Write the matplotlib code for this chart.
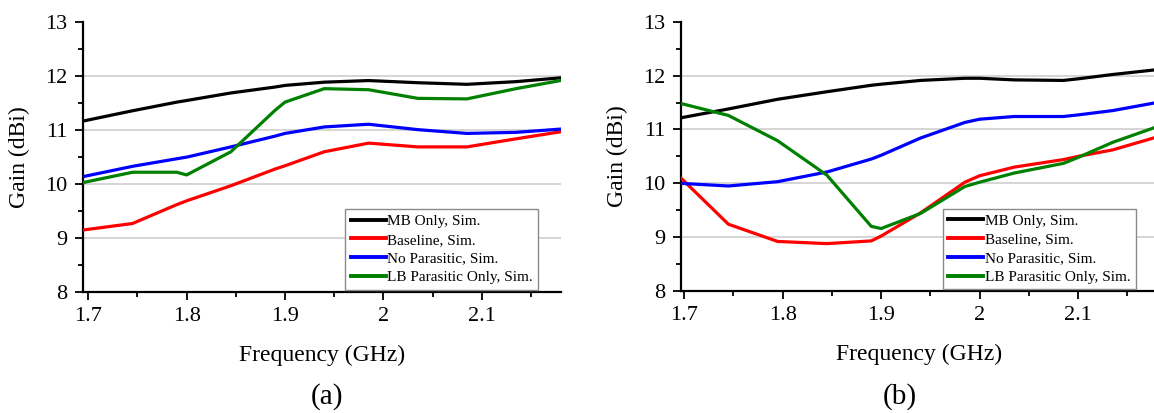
import matplotlib
matplotlib.use("Agg")
import matplotlib.pyplot as plt
from matplotlib.ticker import MultipleLocator, FuncFormatter

plt.rcParams["font.family"] = ["Liberation Serif", "DejaVu Serif"]

# --- gain vs frequency, panel (a) ---
freq_a = [1.695, 1.745, 1.79, 1.80, 1.845, 1.89, 1.90, 1.94, 1.985, 2.035,
          2.085, 2.135, 2.18]
mb_a = [11.17, 11.36, 11.52, 11.55, 11.69, 11.80, 11.83, 11.89, 11.92, 11.88,
        11.85, 11.90, 11.97]
base_a = [9.15, 9.27, 9.62, 9.69, 9.97, 10.28, 10.34, 10.60, 10.76, 10.69,
          10.69, 10.84, 10.97]
nopar_a = [10.14, 10.33, 10.47, 10.50, 10.69, 10.89, 10.94, 11.06, 11.11,
           11.01, 10.94, 10.96, 11.02]
lbpar_a = [10.03, 10.22, 10.22, 10.17, 10.60, 11.37, 11.52, 11.77, 11.75,
           11.59, 11.58, 11.77, 11.92]

# --- panel (b) ---
freq_b = [1.695, 1.745, 1.795, 1.845, 1.89, 1.90, 1.94, 1.985, 2.0, 2.035,
          2.085, 2.10, 2.135, 2.18]
mb_b = [11.21, 11.38, 11.56, 11.70, 11.82, 11.84, 11.91, 11.95, 11.95, 11.92,
        11.91, 11.94, 12.02, 12.11]
base_b = [10.13, 9.24, 8.92, 8.88, 8.93, 9.02, 9.45, 10.02, 10.14, 10.30,
          10.44, 10.50, 10.62, 10.86]
nopar_b = [10.00, 9.95, 10.03, 10.21, 10.45, 10.52, 10.84, 11.13, 11.19,
           11.24, 11.24, 11.27, 11.35, 11.50]
lbpar_b = [11.49, 11.26, 10.79, 10.15, 9.20, 9.16, 9.44, 9.94, 10.02, 10.19,
           10.37, 10.48, 10.76, 11.05]

labels = ["MB Only, Sim.", "Baseline, Sim.", "No Parasitic, Sim.",
          "LB Parasitic Only, Sim."]
colors = ["black", "#ff0000", "#0000ff", "#008000"]

fig = plt.figure(figsize=(11.54, 4.13), dpi=100)
ax_a = fig.add_axes([0.0719, 0.2930, 0.4142, 0.653])
ax_b = fig.add_axes([0.5897, 0.2954, 0.4129, 0.652])


def style(ax, freq, series, xlim, leg_anchor):
    for y, lab, c in zip(series, labels, colors):
        ax.plot(freq, y, color=c, lw=2.3, label=lab, zorder=3)
    ax.set_xlim(*xlim)
    ax.set_ylim(8, 13)
    ax.xaxis.set_major_locator(MultipleLocator(0.1))
    ax.xaxis.set_minor_locator(MultipleLocator(0.05))
    ax.yaxis.set_major_locator(MultipleLocator(1))
    ax.yaxis.set_minor_locator(MultipleLocator(0.5))
    ax.xaxis.set_major_formatter(FuncFormatter(lambda v, p: f"{v:g}"))
    for v in (9, 10, 11, 12):
        ax.axhline(v, color="#d2d2d2", lw=1.3, zorder=1)
    for s in ("top", "right"):
        ax.spines[s].set_visible(False)
    for s in ("left", "bottom"):
        ax.spines[s].set_linewidth(1.6)
    ax.tick_params(which="major", direction="out", length=6, width=1.3,
                   labelsize=16, pad=5)
    ax.tick_params(which="minor", direction="out", length=3.5, width=1.3)
    ax.set_xlabel("Frequency (GHz)", fontsize=17, labelpad=13)
    ax.set_ylabel("Gain (dBi)", fontsize=17, labelpad=11)
    leg = ax.legend(loc="lower right", bbox_to_anchor=leg_anchor,
                    borderaxespad=0, fontsize=11, handlelength=2.3,
                    handletextpad=0.1, labelspacing=0.33, borderpad=0.35,
                    fancybox=False, framealpha=1, edgecolor="#8a8a8a")
    leg.get_frame().set_linewidth(1.0)
    for h in leg.get_lines():
        h.set_linewidth(2.8)


style(ax_a, freq_a, [mb_a, base_a, nopar_a, lbpar_a], (1.6946, 2.1806),
      (0.9525, 0.009))
style(ax_b, freq_b, [mb_b, base_b, nopar_b, lbpar_b], (1.6964, 2.18),
      (0.955, 0.006))

fig.text(327 / 1154, 1 - 397 / 413, "(a)", fontsize=21, ha="center",
         va="center")
fig.text(900 / 1154, 1 - 397 / 413, "(b)", fontsize=21, ha="center",
         va="center")

fig.savefig("out.png", dpi=100)
